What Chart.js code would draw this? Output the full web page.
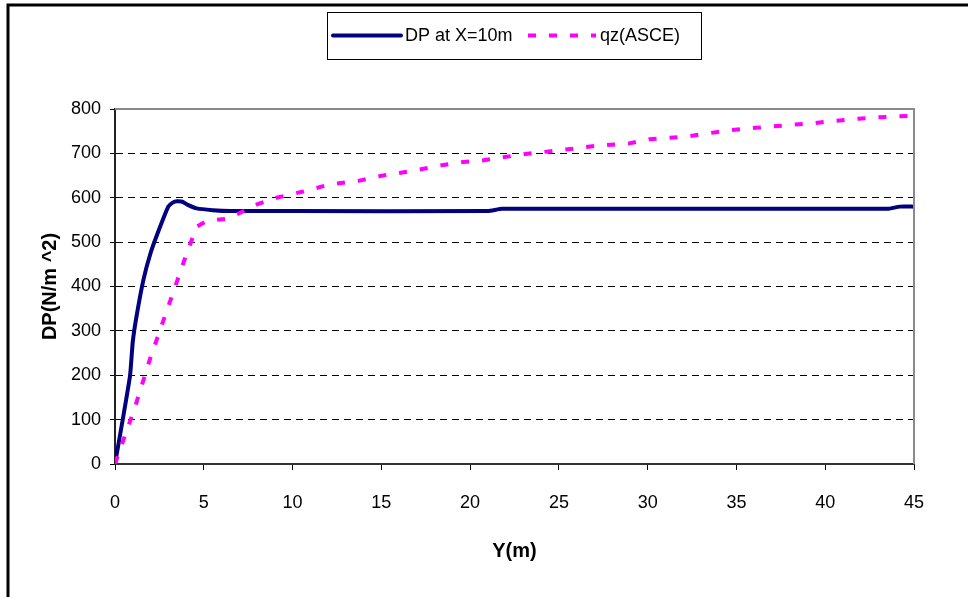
<!DOCTYPE html>
<html>
<head>
<meta charset="utf-8">
<script src="https://cdn.jsdelivr.net/npm/chart.js@4.4.1/dist/chart.umd.min.js"></script>
<style>
  html, body { margin: 0; padding: 0; background: #fff; }
  #wrap { width: 968px; height: 597px; }
</style>
</head>
<body>
<div id="wrap"><canvas id="dpChart" width="968" height="597"></canvas></div>
<script>
/* DP at X=10m */
var dpX = [0, 0.5, 0.85, 1.0, 1.2, 1.6, 2.0, 2.4, 3.0, 3.25, 3.5, 3.8, 4.1, 4.6, 5.5, 6.5, 10, 21, 21.8, 43.5, 44.2, 45];
var dpY = [0, 115, 200, 275, 330, 415, 475, 520, 580, 589, 592, 591, 584, 576, 572, 570, 570, 570, 575, 575, 580, 580];

/* qz(ASCE) */
var qzX = [0, 1.1, 2.0, 3.0, 4.0, 4.6, 5.2, 6.2, 7.0, 8.0, 9.1, 10.6, 12.1, 13.7, 15.2, 16.7, 18.1, 19.5, 20.7, 21.5, 22.8, 24.1, 25.9, 27.1, 28.9, 30.1, 32.0, 33.2, 34.4, 35.6, 36.8, 38.0, 39.3, 40.5, 41.8, 42.9, 45];
var qzY = [0, 125, 240, 355, 470, 535, 548, 552, 565, 585, 600, 614, 630, 638, 651, 660, 671, 680, 684, 689, 697, 703, 711, 717, 722, 732, 737, 744, 751, 756, 760, 764, 768, 773, 778, 781, 785];

/* Axis ticks */
var xTicks = [0, 5, 10, 15, 20, 25, 30, 35, 40, 45];
var yTicks = [0, 100, 200, 300, 400, 500, 600, 700, 800];

var seriesNames = ["DP at X=10m", "qz(ASCE)"];
var fontFamily = "'Liberation Sans', Arial, sans-serif";

function toPoints(xs, ys) {
	var pts = [];
	for (var i = 0; i < xs.length; i++) {
		pts.push({ x: xs[i], y: ys[i] });
	}
	return pts;
}

/* outer frame + gray plot border */
var framePlugin = {
	id: 'frame',
	afterDraw: function (chart) {
		var ctx = chart.ctx;
		var a = chart.chartArea;
		ctx.save();
		ctx.strokeStyle = '#000';
		ctx.lineWidth = 3;
		ctx.beginPath();
		ctx.moveTo(8, 597);
		ctx.lineTo(8, 5);
		ctx.lineTo(968, 5);
		ctx.stroke();
		ctx.strokeStyle = '#8a8a8a';
		ctx.lineWidth = 2;
		ctx.beginPath();
		ctx.moveTo(a.left, a.top);
		ctx.lineTo(a.right, a.top);
		ctx.lineTo(a.right, a.bottom);
		ctx.stroke();
		ctx.restore();
	}
};

/* boxed legend at the top */
var boxLegendPlugin = {
	id: 'boxLegend',
	afterDraw: function (chart) {
		var ctx = chart.ctx;
		var ds = chart.data.datasets;
		var boxL = 327, boxT = 12, boxR = 701, boxB = 59;
		var cy = (boxT + boxB) / 2;
		var starts = [333, 528];
		ctx.save();
		ctx.fillStyle = '#fff';
		ctx.fillRect(boxL, boxT, boxR - boxL, boxB - boxT);
		ctx.strokeStyle = '#000';
		ctx.lineWidth = 1;
		ctx.strokeRect(boxL + 0.5, boxT + 0.5, boxR - boxL, boxB - boxT);
		ctx.font = '18px ' + fontFamily;
		ctx.textBaseline = 'middle';
		ctx.fillStyle = '#000';
		for (var i = 0; i < ds.length; i++) {
			var x0 = starts[i];
			ctx.strokeStyle = ds[i].borderColor;
			ctx.lineWidth = ds[i].borderWidth;
			ctx.lineCap = i == 0 ? 'round' : 'butt';
			ctx.setLineDash(ds[i].borderDash || []);
			ctx.beginPath();
			ctx.moveTo(x0, cy);
			ctx.lineTo(x0 + 68, cy);
			ctx.stroke();
			ctx.setLineDash([]);
			ctx.fillText(ds[i].label, x0 + 72, cy + 1);
		}
		ctx.restore();
	}
};

window.addEventListener("DOMContentLoaded", function () {
	const ctx = document.getElementById("dpChart").getContext("2d");
	new Chart(ctx, {
		type: 'scatter',
		data: {
			datasets: [
				{
					label: seriesNames[0],
					data: toPoints(dpX, dpY),
					showLine: true,
					borderColor: '#000080',
					backgroundColor: '#000080',
					borderWidth: 4,
					borderJoinStyle: 'round',
					pointRadius: 0,
					tension: 0.15,
					order: 2
				},
				{
					label: seriesNames[1],
					data: toPoints(qzX, qzY),
					showLine: true,
					borderColor: '#ff00ff',
					backgroundColor: '#ff00ff',
					borderWidth: 4,
					borderDash: [8, 13],
					borderCapStyle: 'butt',
					pointRadius: 0,
					tension: 0,
					order: 1
				}
			]
		},
		options: {
			responsive: false,
			animation: false,
			layout: {
				padding: { top: 109, right: 54, bottom: 0, left: 0 }
			},
			plugins: {
				legend: { display: false },
				tooltip: { enabled: false }
			},
			scales: {
				x: {
					type: 'linear',
					min: 0,
					max: 45,
					afterBuildTicks: function (scale) {
						scale.ticks = xTicks.map(function (v) { return { value: v }; });
					},
					afterFit: function (scale) {
						scale.height = 133;
					},
					grid: {
						drawOnChartArea: false,
						drawTicks: true,
						tickLength: 6,
						tickColor: '#000',
						tickWidth: 1
					},
					border: { display: true, color: '#333', width: 2 },
					ticks: {
						color: '#000',
						padding: 22,
						maxRotation: 0,
						font: { family: fontFamily, size: 18 }
					},
					title: {
						display: true,
						text: 'Y(m)',
						color: '#000',
						padding: { top: 0, bottom: 34 },
						font: { family: fontFamily, size: 20, weight: 'bold' }
					}
				},
				y: {
					min: 0,
					max: 800,
					afterBuildTicks: function (scale) {
						scale.ticks = yTicks.map(function (v) { return { value: v }; });
					},
					afterFit: function (scale) {
						scale.width = 115;
					},
					grid: {
						color: function (c) {
							var v = c.tick ? c.tick.value : 0;
							return (v == 0 || v == 800) ? 'rgba(0,0,0,0)' : '#000';
						},
						lineWidth: 1,
						drawTicks: true,
						tickLength: 5,
						tickColor: '#000',
						tickWidth: 1,
						tickBorderDash: []
					},
					border: { display: true, color: '#222', width: 2, dash: [7, 5] },
					ticks: {
						color: '#000',
						padding: 9,
						font: { family: fontFamily, size: 18 }
					},
					title: {
						display: true,
						text: 'DP(N/m ^2)',
						color: '#000',
						padding: { top: 38, bottom: 0 },
						font: { family: fontFamily, size: 20, weight: 'bold' }
					}
				}
			}
		},
		plugins: [framePlugin, boxLegendPlugin]
	});
}, false);
</script>
</body>
</html>
